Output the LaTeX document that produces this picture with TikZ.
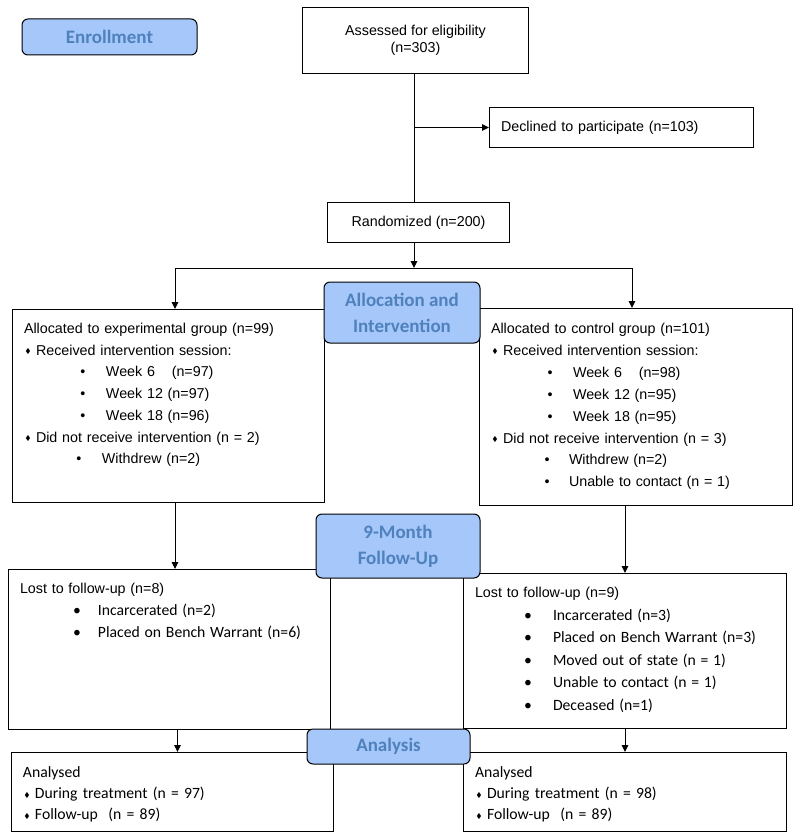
\documentclass[tikz,border=0pt]{standalone}
\usepackage{amssymb}
\usepackage{fontspec}
\setmainfont{Liberation Sans}
\newfontfamily\calfont{Carlito}
\usetikzlibrary{positioning, arrows.meta}
\definecolor{lblfill}{RGB}{166,199,250}
\definecolor{lbltext}{RGB}{79,129,189}

\newcommand{\dmd}{\makebox[8pt]{\raisebox{1.5pt}{\fontsize{7}{7}\selectfont$\blacklozenge$}}\hspace{4pt}}
\newcommand{\itm}[3]{\hspace*{#1}\makebox[0pt]{\textbullet}\hspace{\dimexpr#2-#1\relax}#3}
\newcommand{\cf}{\calfont\fontsize{15.7}{22.5}\selectfont}

\begin{document}
\begin{tikzpicture}[x=1pt, y=-1pt,
	box/.style={draw, line width=1pt, anchor=north west, inner xsep=11.5pt, inner ysep=0pt, align=left},
	plain/.style={draw, line width=1pt, anchor=north west, inner sep=0pt},
	lbl/.style={draw, line width=1pt, rounded corners=6pt, fill=lblfill, text=lbltext, inner sep=0pt,
		align=center, font=\calfont\bfseries\fontsize{19}{26}\selectfont},
	arr/.style={-{Triangle[length=7pt, width=6.5pt]}, line width=1pt}]

		\useasboundingbox (0,0) rectangle (800,840);

		% nodes - top part %
		\node[plain, minimum width=226pt, minimum height=66pt, align=center,
			font=\fontsize{14.3}{17}\selectfont] (assess) at (302,7) {Assessed for eligibility\\(n=303)};
		\node[plain, minimum width=264pt, minimum height=40pt, text width=241pt, inner xsep=11.5pt, align=left,
			font=\fontsize{14.3}{17}\selectfont] (declined) at (489,107) {Declined to participate (n=103)};
		\node[plain, minimum width=182pt, minimum height=40pt,
			font=\fontsize{14.3}{17}\selectfont] (random) at (327,202) {Randomized (n=200)};

		% nodes - allocation %
		\node[box, text width=289pt, text height=24pt, text depth=169pt, font=\fontsize{14.3}{21.7}\selectfont]
			(expalloc) at (12,309) {Allocated to experimental group (n=99)\\
			\dmd Received intervention session:\\
			\itm{59pt}{82pt}{Week 6 \hspace{12pt}(n=97)}\\
			\itm{59pt}{82pt}{Week 12 (n=97)}\\
			\itm{59pt}{82pt}{Week 18 (n=96)}\\
			\dmd Did not receive intervention (n = 2)\\
			\itm{55pt}{78pt}{Withdrew (n=2)}};
		\node[box, text width=290pt, text height=25pt, text depth=172pt, font=\fontsize{14.3}{21.9}\selectfont]
			(ctrlalloc) at (479,308) {Allocated to control group (n=101)\\
			\dmd Received intervention session:\\
			\itm{59pt}{82pt}{Week 6 \hspace{12pt}(n=98)}\\
			\itm{59pt}{82pt}{Week 12 (n=95)}\\
			\itm{59pt}{82pt}{Week 18 (n=95)}\\
			\dmd Did not receive intervention (n = 3)\\
			\itm{56pt}{78pt}{Withdrew (n=2)}\\
			\itm{56pt}{78pt}{Unable to contact (n = 1)}};

		% nodes - follow-up %
		\node[box, text width=299pt, text height=24pt, text depth=136pt, font=\fontsize{14.3}{22}\selectfont]
			(expfu) at (8,569) {Lost to follow-up (n=8)\\
			{\cf\itm{57pt}{78pt}{Incarcerated (n=2)}}\\
			{\cf\itm{57pt}{78pt}{Placed on Bench Warrant (n=6)}}};
		\node[box, text width=300pt, text height=24pt, text depth=131pt, font=\fontsize{14.3}{22.6}\selectfont]
			(ctrlfu) at (463,573) {Lost to follow-up (n=9)\\
			{\cf\itm{53pt}{78pt}{Incarcerated (n=3)}}\\
			{\cf\itm{53pt}{78pt}{Placed on Bench Warrant (n=3)}}\\
			{\cf\itm{53pt}{78pt}{Moved out of state (n = 1)}}\\
			{\cf\itm{53pt}{78pt}{Unable to contact (n = 1)}}\\
			{\cf\itm{53pt}{78pt}{Deceased (n=1)}}};

		% nodes - analysis %
		\node[box, text width=299pt, text height=25pt, text depth=54pt, font=\calfont\fontsize{15.7}{21}\selectfont]
			(expan) at (11,752) {Analysed\\
			\dmd During treatment (n = 97)\\
			\dmd Follow-up \ (n = 89)};
		\node[box, text width=300pt, text height=25pt, text depth=54pt, font=\calfont\fontsize{15.7}{21}\selectfont]
			(ctrlan) at (463,752) {Analysed\\
			\dmd During treatment (n = 98)\\
			\dmd Follow-up \ (n = 89)};

		% edges %
		\coordinate (split) at (414,268);
		\coordinate (lsplit) at (175,268);
		\coordinate (rsplit) at (632,268);
		\draw[line width=1pt] (assess.south -| split) -- (random.north -| split);
		\draw[arr] (declined.west -| split) -- (declined.west);
		\draw[arr] (random.south -| split) -- (split);
		\draw[line width=1pt] (lsplit) -- (rsplit);
		\draw[arr] (lsplit) -- (lsplit |- expalloc.north);
		\draw[arr] (rsplit) -- (rsplit |- ctrlalloc.north);
		\draw[arr] (expalloc.south -| lsplit) -- (expfu.north -| lsplit);
		\draw[arr] (ctrlalloc.south -| ctrlfu.north) -- (ctrlfu.north);
		\draw[arr] ([xshift=5pt]expfu.south -| expan.north) -- ([xshift=5pt]expan.north);
		\draw[arr] (ctrlfu.south -| ctrlan.north) -- (ctrlan.north);

		% stage labels %
		\node[lbl, minimum width=175pt, minimum height=36pt] (enroll) at (109.5,37) {Enrollment};
		\node[lbl, minimum width=156pt, minimum height=61pt] (alloclbl) at (402,312.5) {Allocation and\\Intervention};
		\node[lbl, minimum width=164pt, minimum height=64pt] (fulbl) at (398,546) {9-Month\\Follow-Up};
		\node[lbl, minimum width=163pt, minimum height=35pt] (anlbl) at (388.5,746.5) {Analysis};
\end{tikzpicture}
\end{document}
